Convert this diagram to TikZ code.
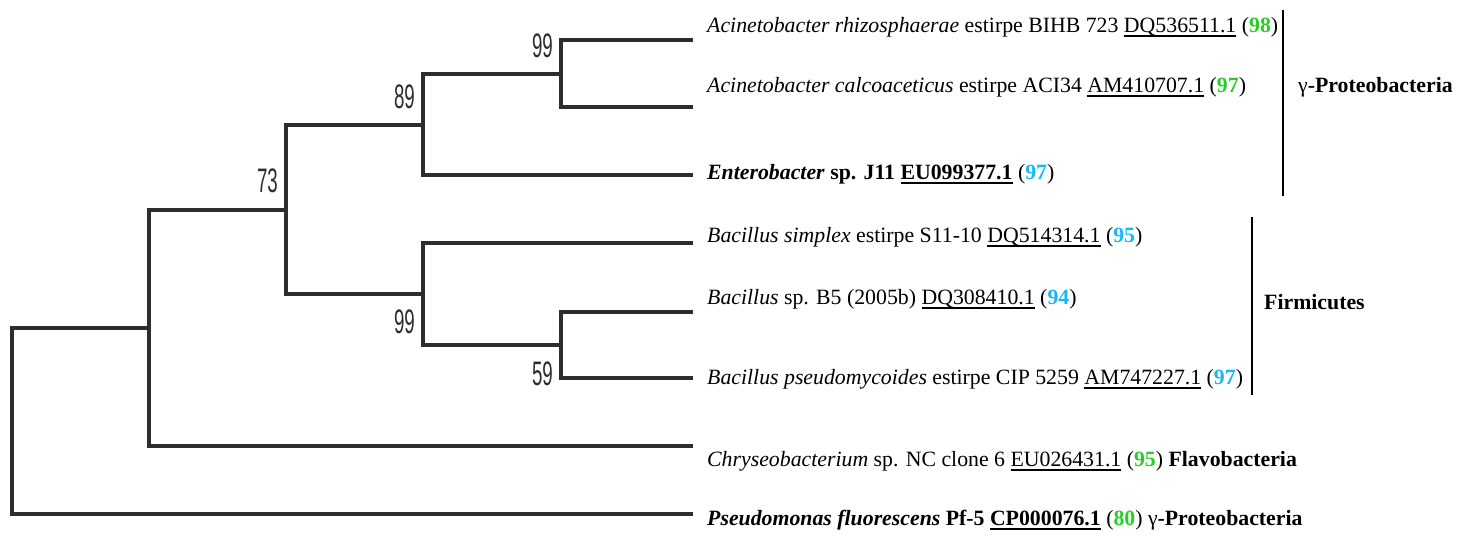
\documentclass[tikz,border=0pt]{standalone}
\usepackage{fontspec}
\setmainfont{Liberation Serif}
\newfontfamily\bootfont[FakeStretch=0.55]{Liberation Sans}
\definecolor{gr}{RGB}{40,205,40}
\definecolor{cy}{RGB}{20,185,245}
\definecolor{treec}{RGB}{45,45,45}
\newcommand\gnum[1]{(\textbf{\color{gr}#1})}
\newcommand\cnum[1]{(\textbf{\color{cy}#1})}
\newcommand\ulx[1]{\setbox0\hbox{#1}\rlap{\rule[-4.5pt]{\wd0}{1.2pt}}\box0\relax}
\begin{document}
\begin{tikzpicture}[x=1pt,y=-1pt,
  branch/.style={draw=treec,line width=3.2pt},
  bracket/.style={draw=black,line width=1.5pt},
  boot/.style={font=\bootfont\fontsize{34}{34}\selectfont,text=treec,inner sep=0pt},
  taxon/.style={anchor=base west,inner sep=0pt,font=\fontsize{21.8}{24}\selectfont},
  grp/.style={anchor=base west,inner sep=0pt,font=\fontsize{21.8}{24}\selectfont\bfseries}]
\useasboundingbox (0,0) rectangle (1457,539);
% internal nodes
\coordinate (R) at (12,421);
\coordinate (A) at (149,328);
\coordinate (B) at (286,210);
\coordinate (C) at (423,125);
\coordinate (D) at (561,74);
\coordinate (E) at (423,294);
\coordinate (F) at (561,345);
% leaves
\coordinate (L1) at (693,40);
\coordinate (L2) at (693,107);
\coordinate (L3) at (693,175);
\coordinate (L4) at (693,243);
\coordinate (L5) at (693,312);
\coordinate (L6) at (693,378);
\coordinate (L7) at (693,446);
\coordinate (L8) at (693,514);
% branches
\draw[branch] (R) |- (A);
\draw[branch] (R) |- (L8);
\draw[branch] (A) |- (B);
\draw[branch] (A) |- (L7);
\draw[branch] (B) |- (C);
\draw[branch] (B) |- (E);
\draw[branch] (C) |- (D);
\draw[branch] (C) |- (L3);
\draw[branch] (D) |- (L1);
\draw[branch] (D) |- (L2);
\draw[branch] (E) |- (L4);
\draw[branch] (E) |- (F);
\draw[branch] (F) |- (L5);
\draw[branch] (F) |- (L6);
% bootstrap values
\node[boot,anchor=east] (bD) at ([xshift=-8pt,yshift=28pt]D) {99};
\node[boot,anchor=east] (bC) at ([xshift=-8pt,yshift=28pt]C) {89};
\node[boot,anchor=east] (bB) at ([xshift=-8pt,yshift=29pt]B) {73};
\node[boot,anchor=east] (bE) at ([xshift=-8pt,yshift=-28pt]E) {99};
\node[boot,anchor=east] (bF) at ([xshift=-8pt,yshift=-29pt]F) {59};
% taxa
\node[taxon] (t1) at (707,32) {\textit{Acinetobacter rhizosphaerae} estirpe BIHB 723 \ulx{DQ536511.1} \gnum{98}};
\node[taxon] (t2) at (707,92) {\textit{Acinetobacter calcoaceticus} estirpe ACI34 \ulx{AM410707.1} \gnum{97}};
\node[taxon] (t3) at (707,179) {\textbf{\textit{Enterobacter} sp. J11 \ulx{EU099377.1}} \cnum{97}};
\node[taxon] (t4) at (707,242) {\textit{Bacillus simplex} estirpe S11-10 \ulx{DQ514314.1} \cnum{95}};
\node[taxon] (t5) at (707,304) {\textit{Bacillus} sp. B5 (2005b) \ulx{DQ308410.1} \cnum{94}};
\node[taxon] (t6) at (707,384) {\textit{Bacillus pseudomycoides} estirpe CIP 5259 \ulx{AM747227.1} \cnum{97}};
\node[taxon] (t7) at (707,466) {\textit{Chryseobacterium} sp. NC clone 6 \ulx{EU026431.1} \gnum{95} \textbf{Flavobacteria}};
\node[taxon] (t8) at (707,525) {\textbf{\textit{Pseudomonas fluorescens} Pf-5 \ulx{CP000076.1}} \gnum{80} γ\textbf{-Proteobacteria}};
% group brackets
\coordinate (g1t) at (1283,10);
\coordinate (g1b) at (1283,196);
\coordinate (g2t) at (1252,217);
\coordinate (g2b) at (1252,395);
\draw[bracket] (g1t) -- (g1b);
\draw[bracket] (g2t) -- (g2b);
\node[grp] (g1) at (1298,92) {{\mdseries γ}-Proteobacteria};
\node[grp] (g2) at (1264,309) {Firmicutes};
\end{tikzpicture}
\end{document}
